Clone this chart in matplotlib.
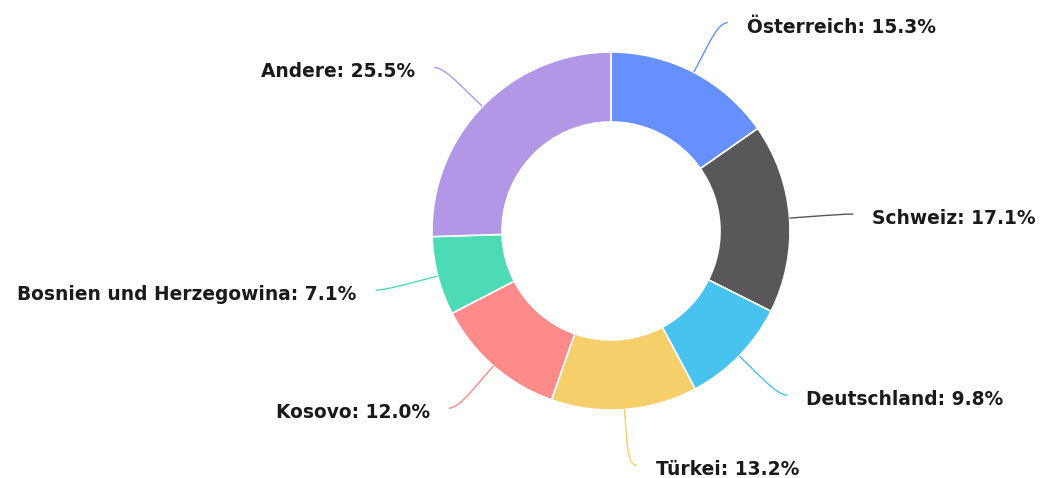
import numpy as np
import matplotlib
matplotlib.use("Agg")
import matplotlib.pyplot as plt
from matplotlib.path import Path
from matplotlib.patches import PathPatch

# Data
categories = ["Österreich", "Schweiz", "Deutschland", "Türkei", "Kosovo",
              "Bosnien und Herzegowina", "Andere"]
values = [15.3, 17.1, 9.8, 13.2, 12.0, 7.1, 25.5]
colors = ["#6690FF", "#58585A", "#48C2EF", "#F4CF6A", "#FF8A8A", "#4CDBB5", "#B197E5"]

W, H = 1040, 478
fig = plt.figure(figsize=(W / 100, H / 100), dpi=100)
ax = fig.add_axes([0, 0, 1, 1])

cx, cy = 611, 231
R_out = 179
ring = 70
R_lab = 235

ax.pie(values, colors=colors, radius=R_out, center=(cx, cy), startangle=-90,
       counterclock=True,
       wedgeprops=dict(width=ring, edgecolor="white", linewidth=1.2))
ax.set_xlim(0, W)
ax.set_ylim(H, 0)
ax.set_aspect("equal")
ax.axis("off")

total = sum(values)
cum = 0.0
for cat, v, col in zip(categories, values, colors):
    mid = (cum + v / 2) / total
    cum += v
    th = np.deg2rad(-90 + 360 * mid)
    d = np.array([np.cos(th), np.sin(th)])
    right = d[0] >= 0
    sgn = 1 if right else -1
    edge = np.array([cx, cy]) + R_out * d
    brk = np.array([cx, cy]) + (R_out + 18) * d
    end = np.array([cx, cy]) + R_lab * d + np.array([8 * sgn, 0])
    ctrl1 = 2 * brk - edge
    ctrl2 = end - np.array([9 * sgn, 0])
    verts = [edge, brk, ctrl1, ctrl2, end]
    codes = [Path.MOVETO, Path.LINETO, Path.CURVE4, Path.CURVE4, Path.CURVE4]
    ax.add_patch(PathPatch(Path(verts, codes), facecolor="none",
                           edgecolor=col, lw=1.0))
    tx = end[0] + 19 * sgn
    ty = end[1] + 10
    ax.text(tx, ty, f"{cat}: {v:.1f}%", ha="left" if right else "right",
            va="baseline", fontsize=13.4, fontweight="bold", color="#1a1a1a",
            family="DejaVu Sans")

fig.savefig("out.png", dpi=100, facecolor="white")
